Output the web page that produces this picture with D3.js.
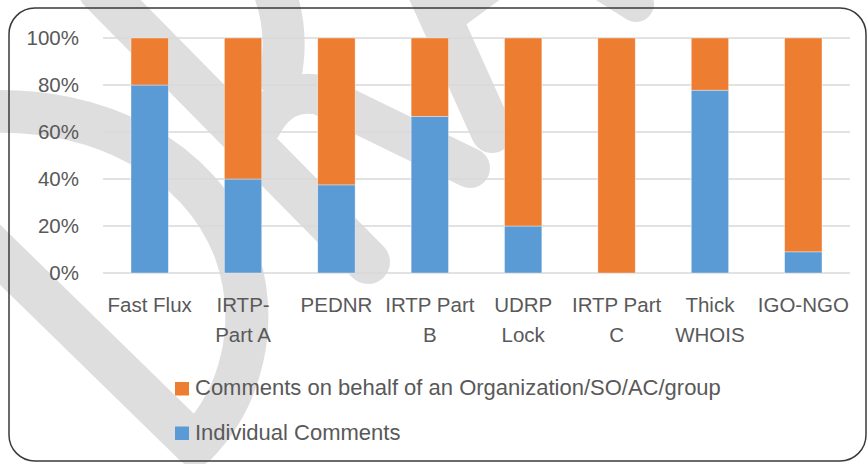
<!DOCTYPE html>
<html>
<head>
<meta charset="utf-8">
<script src="https://cdn.jsdelivr.net/npm/d3@7"></script>
<style>
	html, body { margin: 0; padding: 0; background: #fff; }
	svg { display: block; }
</style>
</head>
<body>
<div id="chart"></div>
<script>
;(function(){
	var w = 868;
	var h = 464;

	// data (share of comments per PDP)
	var categories = ["Fast Flux", "IRTP-Part A", "PEDNR", "IRTP Part B", "UDRP Lock", "IRTP Part C", "Thick WHOIS", "IGO-NGO"];
	var individual = [0.80, 0.40, 0.375, 0.667, 0.20, 0.00, 0.778, 0.09];
	var organization = [0.20, 0.60, 0.625, 0.333, 0.80, 1.00, 0.222, 0.91];
	var seriesNames = ["Individual Comments", "Comments on behalf of an Organization/SO/AC/group"];
	var yTicks = [0, 0.2, 0.4, 0.6, 0.8, 1.0];

	var colors = { ind: "#5B9BD5", org: "#ED7D31" };
	var textColor = "#595959";
	var font = "'Liberation Sans', Arial, sans-serif";

	var xrange = [103, 850];
	var yrange = [273, 38];

	var svg = d3.select("#chart").append("svg")
		.attr("width", w)
		.attr("height", h);

	// 1) the grey "DRAFT" watermark, sits behind everything
	var wm = svg.append("g")
		.attr("class", "watermark")
		.attr("fill", "none")
		.attr("stroke", "#dedede")
		.attr("stroke-linecap", "round")
		.attr("stroke-linejoin", "round");
	var wmPaths = [
		["M -20,112 C 100,105 200,160 235,250 C 262,325 240,400 195,445 L -15,240", 43],
		["M 100,-10 L 368,262", 44],
		["M 272,-15 C 286,20 286,50 280,78", 42],
		["M 262,125 C 275,100 295,90 320,95 L 470,168", 40],
		["M 428,-10 L 492,132", 42],
		["M 455,8 L 520,-40", 40],
		["M 590,-25 L 636,4", 36]
	];
	wm.selectAll("path")
		.data(wmPaths)
		.enter().append("path")
			.attr("d", function(d){ return d[0]; })
			.attr("stroke-width", function(d){ return d[1]; });

	// 2) chart frame
	svg.append("rect")
		.attr("x", 9)
		.attr("y", 8)
		.attr("width", 857)
		.attr("height", 453)
		.attr("rx", 26)
		.attr("fill", "none")
		.attr("stroke", "#3a3a3a")
		.attr("stroke-width", 1.5);

	// 3) scales
	var xscale = d3.scaleBand()
		.domain(categories)
		.range(xrange)
		.paddingInner(0.6)
		.paddingOuter(0.3);

	var yscale = d3.scaleLinear()
		.domain([0, 1])
		.range(yrange);

	// 4) grid + y labels
	svg.selectAll("line.y-grid")
		.data(yTicks)
		.enter().append("line")
			.attr("class", "y-grid")
			.attr("x1", xrange[0])
			.attr("x2", xrange[1])
			.attr("y1", function(d){ return yscale(d); })
			.attr("y2", function(d){ return yscale(d); })
			.attr("stroke", "#d9d9d9")
			.attr("stroke-width", 1.5);

	var pct = d3.format(".0%");
	svg.selectAll("text.y-axis-tick")
		.data(yTicks)
		.enter().append("text")
			.attr("class", "y-axis-tick")
			.attr("x", 79)
			.attr("y", function(d){ return yscale(d); })
			.attr("dy", "0.36em")
			.attr("fill", textColor)
			.style("font-family", font)
			.style("font-size", "20.5px")
			.style("text-anchor", "end")
			.text(function(d){ return pct(d); });

	// 5) stacked bars
	var rows = categories.map(function(c, i){
		return { cat: c, ind: individual[i], org: organization[i] };
	});
	var stack = d3.stack().keys(["ind", "org"]);
	var layers = stack(rows);

	svg.selectAll("g.layer")
		.data(layers)
		.enter().append("g")
			.attr("class", "layer")
			.attr("fill", function(d){ return colors[d.key]; })
		.selectAll("rect")
		.data(function(d){ return d; })
		.enter().append("rect")
			.attr("x", function(d){ return xscale(d.data.cat); })
			.attr("width", xscale.bandwidth())
			.attr("y", function(d){ return yscale(d[1]); })
			.attr("height", function(d){ return yscale(d[0]) - yscale(d[1]); })
			.attr("stroke", "#fff")
			.attr("stroke-opacity", 0.6)
			.attr("stroke-width", 0.6);

	// 6) x labels, wrapped to the category width like the original
	// (a hyphen is the preferred break, otherwise break on spaces)
	var maxw = xscale.step() * 1.05;
	var xlab = svg.selectAll("text.x-axis-tick")
		.data(categories)
		.enter().append("text")
			.attr("class", "x-axis-tick")
			.attr("fill", textColor)
			.style("font-family", font)
			.style("font-size", "20.5px")
			.style("text-anchor", "middle");

	xlab.each(function(name){
		var t = d3.select(this);
		var cx = xscale(name) + xscale.bandwidth() / 2;
		var probe = t.append("tspan");
		function width(s){
			probe.text(s);
			return probe.node().getComputedTextLength();
		}

		var lines = [];
		if(width(name) <= maxw){
			lines = [name];
		}
		else if(name.indexOf("-") > -1){
			var k = name.indexOf("-") + 1;
			lines = [name.slice(0, k), name.slice(k)];
		}
		else{
			var words = name.split(" ");
			var cur = "";
			words.forEach(function(wd){
				var test = cur === "" ? wd : cur + " " + wd;
				if(cur !== "" && width(test) > maxw){
					lines.push(cur);
					cur = wd;
				}
				else{
					cur = test;
				}
			});
			lines.push(cur);
		}
		probe.remove();

		lines.forEach(function(l, i){
			t.append("tspan")
				.attr("x", cx)
				.attr("y", 312 + i * 29.5)
				.text(l);
		});
	});

	// 7) legend
	var legendItems = [
		{ name: seriesNames[1], color: colors.org },
		{ name: seriesNames[0], color: colors.ind }
	];
	var lg = svg.selectAll("g.legend")
		.data(legendItems)
		.enter().append("g")
			.attr("class", "legend")
			.attr("transform", function(d, i){ return "translate(175," + (382 + i * 44.5) + ")"; });
	lg.append("rect")
		.attr("width", 14)
		.attr("height", 13.5)
		.attr("fill", function(d){ return d.color; });
	lg.append("text")
		.attr("x", 20)
		.attr("y", 13.3)
		.attr("fill", textColor)
		.style("font-family", font)
		.style("font-size", "22px")
		.text(function(d){ return d.name; });
})();
</script>
</body>
</html>
